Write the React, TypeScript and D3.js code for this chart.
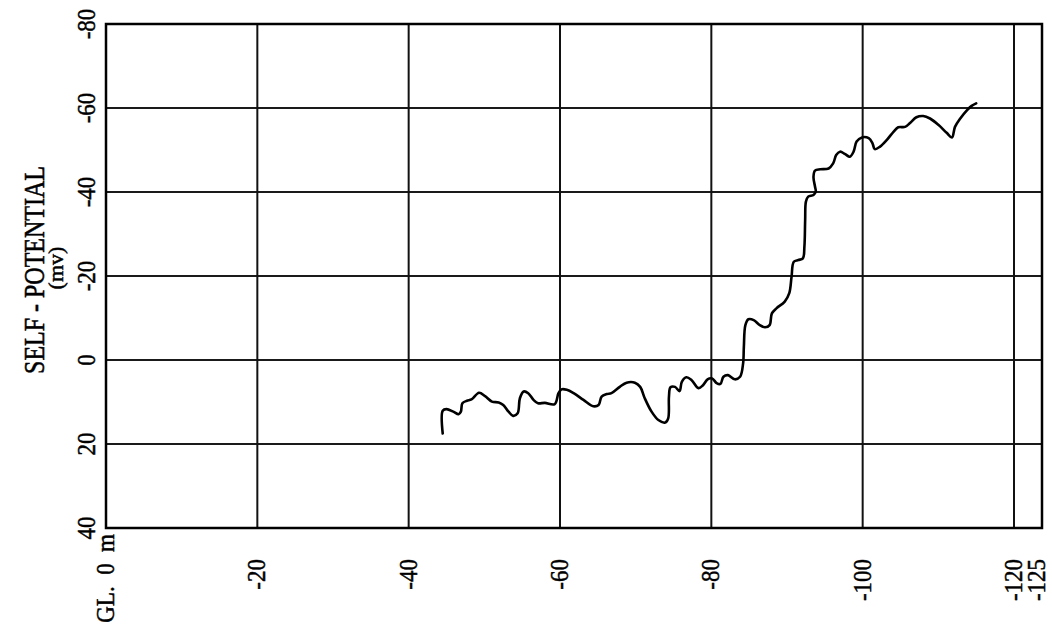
import React from "react";
import * as d3 from "d3";

// Self-potential log: depth below ground level (m) vs SP reading (mv)
const depthTicks = [0, -20, -40, -60, -80, -100, -120, -125];
const depthTickLabels = ["GL.  0  m", "-20", "-40", "-60", "-80", "-100", "-120", "-125"];
const spTicks = [-80, -60, -40, -20, 0, 20, 40];
const spTickLabels = ["-80", "-60", "-40", "-20", "0", "20", "40"];

const depth = [
  -44.5, -44.5, -45.0, -45.9, -46.6, -46.9, -47.1, -47.7, -48.3, -49.3,
  -50.1, -51.0, -51.9, -52.5, -53.2, -53.8, -54.4, -54.7, -55.2, -55.8,
  -56.5, -57.1, -58.0, -59.3, -59.8, -60.2, -60.9, -61.8, -63.1, -64.4,
  -65.1, -65.5, -66.2, -66.8, -67.9, -68.8, -69.9, -70.6, -71.2, -72.1,
  -73.0, -73.9, -74.3, -74.4, -74.6, -75.2, -75.8, -76.1, -76.7, -77.4,
  -78.3, -78.9, -79.5, -80.1, -80.7, -81.2, -81.6, -82.2, -83.1, -83.8,
  -84.2, -84.3, -84.5, -84.9, -85.6, -86.4, -87.1, -87.7, -88.0, -88.6,
  -89.7, -90.3, -90.6, -90.9, -91.5, -92.1, -92.3, -92.4, -92.5, -92.8,
  -93.5, -93.8, -93.7, -93.5, -93.7, -94.4, -95.5, -96.1, -96.5, -97.0,
  -97.7, -98.3, -98.8, -99.2, -99.9, -100.8, -101.3, -101.6, -102.3, -103.2,
  -104.1, -104.7, -105.6, -106.3, -107.1, -108.0, -108.9, -110.0, -111.1, -111.8,
  -112.2, -112.9, -113.8, -114.4, -115.0,
];
const sp = [
  17.5, 12.1, 11.7, 12.3, 12.9, 12.3, 10.3, 9.7, 9.4, 7.8,
  8.6, 9.9, 10.1, 10.7, 12.3, 13.3, 12.7, 9.1, 7.5, 7.9,
  9.5, 10.3, 10.2, 10.5, 7.9, 7.0, 7.1, 7.9, 9.5, 11.0,
  10.7, 8.7, 8.1, 7.9, 6.4, 5.4, 5.4, 6.4, 9.1, 12.3,
  14.3, 14.9, 13.9, 8.7, 6.5, 6.4, 7.4, 5.2, 4.1, 4.8,
  6.7, 6.0, 4.6, 4.4, 5.5, 5.7, 4.0, 3.6, 4.6, 4.0,
  0.8, -3.2, -8.3, -9.7, -9.5, -8.3, -7.8, -8.3, -11.1, -12.3,
  -13.9, -15.9, -19.8, -23.4, -23.8, -24.2, -27.0, -33.3, -37.7, -38.9,
  -39.3, -40.1, -41.3, -43.6, -45.1, -45.4, -45.6, -46.8, -48.8, -49.6,
  -49.0, -48.4, -49.6, -52.0, -53.0, -52.8, -51.6, -50.2, -50.8, -52.4,
  -54.4, -55.4, -55.5, -56.5, -57.8, -58.1, -57.5, -56.0, -54.1, -53.0,
  -55.5, -57.5, -59.5, -60.5, -61.1,
];

const WIDTH = 1052;
const HEIGHT = 627;
const FONT = "'Liberation Serif', 'Times New Roman', serif";

export default function App() {
  // Depth runs left to right; the last 5 m strip is drawn narrower on the sheet.
  const x = d3.scaleLinear().domain([0, -120, -125]).range([106, 1014, 1042]);
  // SP axis increases downward: -80 at the top, +40 at the bottom.
  const y = d3.scaleLinear().domain([-80, 40]).range([24, 528]);

  const pts = depth.map((d, i) => [d, sp[i]] as [number, number]);
  const line = d3
    .line<[number, number]>()
    .x((p) => x(p[0]))
    .y((p) => y(p[1]))
    .curve(d3.curveCatmullRom.alpha(0.5));

  const [x0, x1] = [x(0), x(-125)];
  const [y0, y1] = [y(-80), y(40)];

  // heavier print look for the lettering
  const ink = { fill: "#000", stroke: "#000", strokeWidth: 0.45 };

  return (
    <svg
      width={WIDTH}
      height={HEIGHT}
      style={{ position: "absolute", left: 0, top: 0, background: "#fff" }}
      fontFamily={FONT}
    >
      <rect width={WIDTH} height={HEIGHT} fill="#fff" />

      {/* horizontal grid */}
      {spTicks.slice(1, -1).map((v) => (
        <line key={"h" + v} x1={x0} x2={x1} y1={y(v)} y2={y(v)} stroke="#1a1a1a" strokeWidth={2} />
      ))}
      {/* vertical grid */}
      {depthTicks.slice(1, -1).map((v) => (
        <line key={"v" + v} x1={x(v)} x2={x(v)} y1={y0} y2={y1} stroke="#111" strokeWidth={2} />
      ))}
      {/* frame */}
      <rect x={x0} y={y0} width={x1 - x0} height={y1 - y0} fill="none" stroke="#000" strokeWidth={2.5} />

      {/* SP curve */}
      <path d={line(pts) ?? ""} fill="none" stroke="#000" strokeWidth={2.6} strokeLinejoin="round" strokeLinecap="round" />

      {/* SP tick labels */}
      {spTicks.map((v, i) => (
        <text
          key={"sl" + v}
          transform={`translate(95,${y(v)}) rotate(-90) scale(1,1.1)`}
          textAnchor="middle"
          fontSize={23}
          {...ink}
        >
          {spTickLabels[i]}
        </text>
      ))}

      {/* depth tick labels */}
      {depthTicks.map((v, i) => (
        <text
          key={"dl" + v}
          transform={`translate(${Math.min(x(v) + 8, 1045)},${i === 0 ? 534 : 559}) rotate(-90) scale(1,1.1)`}
          textAnchor="end"
          fontSize={23}
          style={{ whiteSpace: "pre" }}
          {...ink}
        >
          {depthTickLabels[i]}
        </text>
      ))}

      {/* axis title */}
      <text transform="translate(44,270) rotate(-90) scale(1,1.25)" textAnchor="middle" fontSize={24} {...ink}>
        SELF - POTENTIAL
      </text>
      <text transform="translate(63,268) rotate(-90)" textAnchor="middle" fontSize={22} {...ink}>
        (mv)
      </text>
    </svg>
  );
}
